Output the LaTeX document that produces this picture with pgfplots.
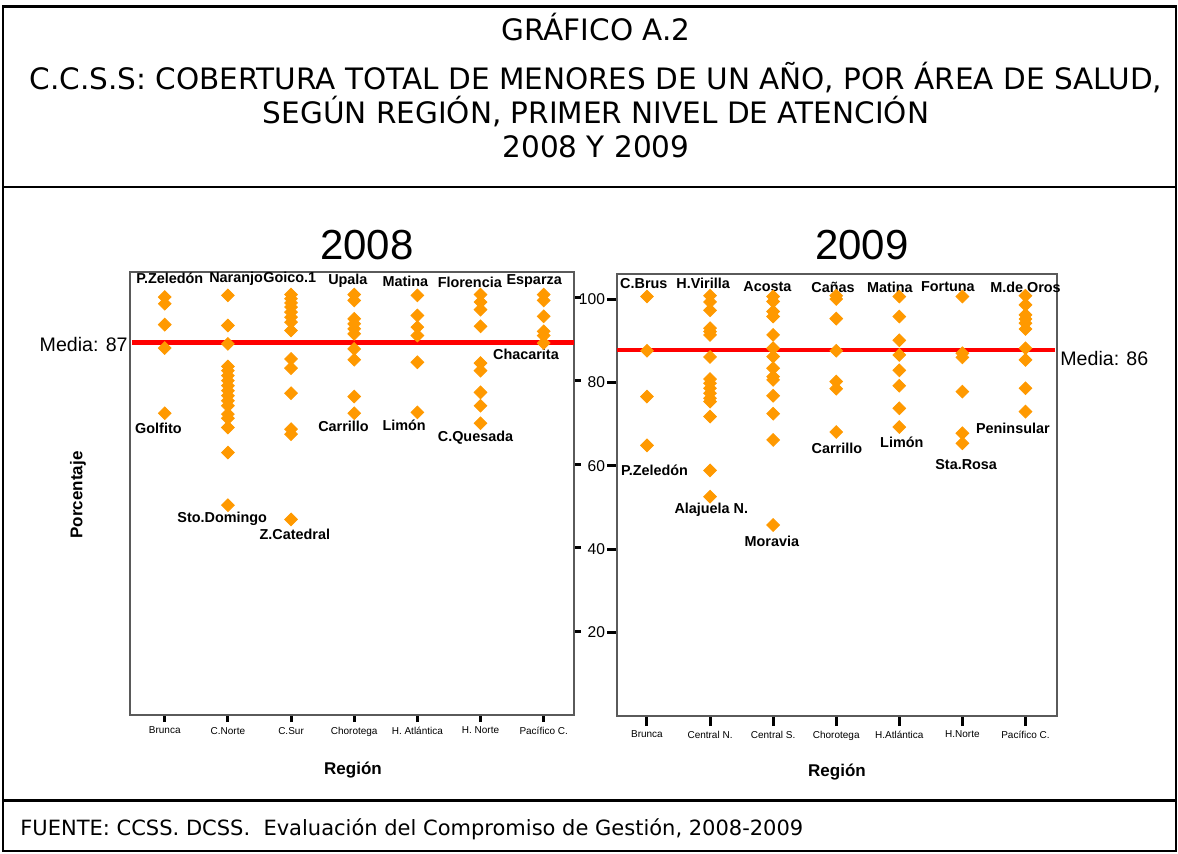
\documentclass[border=0pt]{standalone}
\usepackage{pgfplots}
\pgfplotsset{compat=1.18}
\usepackage{pgfplotstable}
\usepackage{fontspec}
\setmainfont{Liberation Sans}
\newfontfamily\verd{DejaVu Sans}
\definecolor{orng}{RGB}{255,153,0}
\definecolor{axgray}{RGB}{90,90,90}

\pgfplotstableread{
x y
0 100.0
0 98.4
0 93.4
0 87.8
0 72.2
1 100.4
1 93.2
1 88.8
1 83.4
1 82.4
1 81.2
1 80.0
1 78.8
1 77.6
1 76.4
1 75.2
1 74.0
1 72.0
1 71.0
1 68.8
1 62.8
1 50.2
2 100.6
2 99.6
2 98.6
2 97.6
2 96.4
2 95.2
2 94.0
2 92.0
2 85.2
2 83.0
2 77.0
2 68.4
2 67.2
2 46.8
3 100.6
3 99.2
3 94.8
3 93.6
3 92.4
3 91.2
3 87.6
3 85.0
3 76.2
3 72.2
4 100.4
4 95.6
4 92.8
4 90.8
4 84.4
4 72.4
5 100.6
5 98.8
5 97.0
5 93.0
5 84.2
5 82.4
5 77.2
5 74.0
5 69.8
6 100.6
6 99.2
6 95.4
6 91.8
6 90.8
6 89.0
}\dataA

\pgfplotstableread{
x y
0 100.6
0 87.6
0 76.6
0 64.9
1 100.8
1 99.3
1 97.3
1 93.0
1 92.2
1 91.4
1 86.1
1 80.8
1 79.8
1 78.6
1 77.4
1 76.2
1 75.4
1 71.8
1 58.9
1 52.6
2 100.6
2 99.4
2 97.0
2 95.8
2 91.4
2 88.2
2 86.2
2 83.4
2 81.4
2 80.6
2 76.8
2 72.5
2 66.2
2 45.8
3 100.8
3 100.0
3 95.3
3 87.6
3 80.2
3 78.5
3 68.1
4 100.6
4 95.8
4 90.1
4 86.6
4 82.9
4 79.2
4 73.8
4 69.3
5 100.6
5 87.0
5 86.0
5 77.8
5 67.8
5 65.4
6 100.8
6 98.6
6 96.2
6 95.2
6 94.2
6 92.8
6 88.2
6 85.4
6 78.6
6 73.0
}\dataB

\tikzset{lbl/.style={font=\fontsize{7.2}{8}\selectfont\bfseries, inner sep=0pt}}
\pgfplotsset{
  panel/.style={
    scale only axis,
    ymin=0, ymax=106,
    axis line style={axgray, line width=0.6pt},
    xtick={0,...,6},
    xtick pos=bottom,
    ytick={20,40,60,80,100},
    tick align=outside,
    major tick length=4pt,
    tick style={black, line width=1.5pt},
    x tick label style={font=\fontsize{5}{6}\selectfont, yshift=1pt},
    y tick label style={font=\fontsize{7.8}{9}\selectfont, xshift=2.5pt},
    /pgf/number format/assume math mode=true,
    clip=false,
  },
  pts/.style={only marks, mark=square*, mark size=2.25pt, mark options={rotate=45, fill=orng, draw=orng}},
}

\begin{document}
\begin{tikzpicture}
\path[use as bounding box] (0pt,0pt) rectangle (589pt,426.5pt);
% frame
\draw[line width=1.3pt] (1.5pt,1pt) rectangle (588pt,423.3pt);
\draw[line width=1.3pt] (1.5pt,333pt) -- (588pt,333pt);
\draw[line width=1.3pt] (1.5pt,26.3pt) -- (588pt,26.3pt);
% titles
\node[font=\verd\fontsize{14.75}{16}\selectfont] at (298pt,413pt) {GRÁFICO A.2};
\node[font=\verd\fontsize{14.75}{16}\selectfont] at (298pt,387.5pt) {C.C.S.S: COBERTURA TOTAL DE MENORES DE UN AÑO, POR ÁREA DE SALUD,};
\node[font=\verd\fontsize{14.75}{16}\selectfont] at (298pt,370.5pt) {SEGÚN REGIÓN, PRIMER NIVEL DE ATENCIÓN};
\node[font=\verd\fontsize{14.75}{16}\selectfont] at (298pt,353pt) {2008 Y 2009};
\node[font=\verd\fontsize{10.5}{12}\selectfont, anchor=west, inner sep=0pt] at (10pt,12pt) {FUENTE: CCSS. DCSS.\ \ Evaluación del Compromiso de Gestión, 2008-2009};

% 2008 panel
\begin{axis}[panel, at={(65pt,69pt)}, anchor=south west, width=222pt, height=221.5pt,
  xmin=-0.55, xmax=6.48, ytick pos=right, yticklabels={},
  major tick length=3.5pt,
  xticklabels={Brunca,C.Norte,C.Sur,Chorotega,H. Atlántica,H. Norte,Pacífico C.}]
\addplot[pts] table[x=x,y=y] {\dataA};
\addplot[red, line width=2.3pt, no marks] coordinates {(-0.52,89.2) (6.48,89.2)};
\node[lbl] at (axis cs:0.08,104.4) {P.Zeledón};
\node[lbl] at (axis cs:1.13,104.4) {Naranjo};
\node[lbl] at (axis cs:1.98,104.8) {Goico.1};
\node[lbl] at (axis cs:2.90,103.8) {Upala};
\node[lbl] at (axis cs:3.81,103.8) {Matina};
\node[lbl] at (axis cs:4.83,103.6) {Florencia};
\node[lbl] at (axis cs:5.85,103.8) {Esparza};
\node[lbl] at (axis cs:-0.10,68.5) {Golfito};
\node[lbl] at (axis cs:0.91,47.0) {Sto.Domingo};
\node[lbl] at (axis cs:2.06,43.2) {Z.Catedral};
\node[lbl] at (axis cs:2.83,69.0) {Carrillo};
\node[lbl] at (axis cs:3.79,69.4) {Limón};
\node[lbl] at (axis cs:4.92,66.4) {C.Quesada};
\node[lbl] at (axis cs:5.72,86.2) {Chacarita};
\end{axis}

% 2009 panel
\begin{axis}[panel, at={(308.5pt,68.5pt)}, anchor=south west, width=220pt, height=221pt,
  xmin=-0.475, xmax=6.5, ytick pos=left, major tick length=5pt,
  xticklabels={Brunca,Central N.,Central S.,Chorotega,H.Atlántica,H.Norte,Pacífico C.}]
\addplot[pts] table[x=x,y=y] {\dataB};
\addplot[red, line width=2.3pt, no marks] coordinates {(-0.475,87.8) (6.47,87.8)};
\node[lbl] at (axis cs:-0.05,103.8) {C.Brus};
\node[lbl] at (axis cs:0.89,103.8) {H.Virilla};
\node[lbl] at (axis cs:1.91,102.9) {Acosta};
\node[lbl] at (axis cs:2.95,102.9) {Cañas};
\node[lbl] at (axis cs:3.85,102.9) {Matina};
\node[lbl] at (axis cs:4.77,102.9) {Fortuna};
\node[lbl] at (axis cs:6.00,102.9) {M.de Oros};
\node[lbl] at (axis cs:0.12,59.0) {P.Zeledón};
\node[lbl] at (axis cs:1.02,49.4) {Alajuela N.};
\node[lbl] at (axis cs:1.98,42.0) {Moravia};
\node[lbl] at (axis cs:3.01,64.2) {Carrillo};
\node[lbl] at (axis cs:4.04,65.6) {Limón};
\node[lbl] at (axis cs:5.06,60.4) {Sta.Rosa};
\node[lbl] at (axis cs:5.80,68.9) {Peninsular};
\end{axis}

% panel titles and labels
\node[font=\fontsize{21}{22}\selectfont] at (183.5pt,304pt) {2008};
\node[font=\fontsize{21}{22}\selectfont] at (431pt,304pt) {2009};
\node[font=\fontsize{9.8}{11}\selectfont, anchor=east, inner sep=0pt] at (64pt,254.5pt) {Media: 87};
\node[font=\fontsize{9.8}{11}\selectfont, anchor=west, inner sep=0pt] at (530pt,247.5pt) {Media: 86};
\node[font=\fontsize{8.5}{9}\selectfont\bfseries, rotate=90] at (39pt,179pt) {Porcentaje};
\node[font=\fontsize{8.5}{9}\selectfont\bfseries] at (176.5pt,41.5pt) {Región};
\node[font=\fontsize{8.5}{9}\selectfont\bfseries] at (418.5pt,40.5pt) {Región};
\end{tikzpicture}
\end{document}
